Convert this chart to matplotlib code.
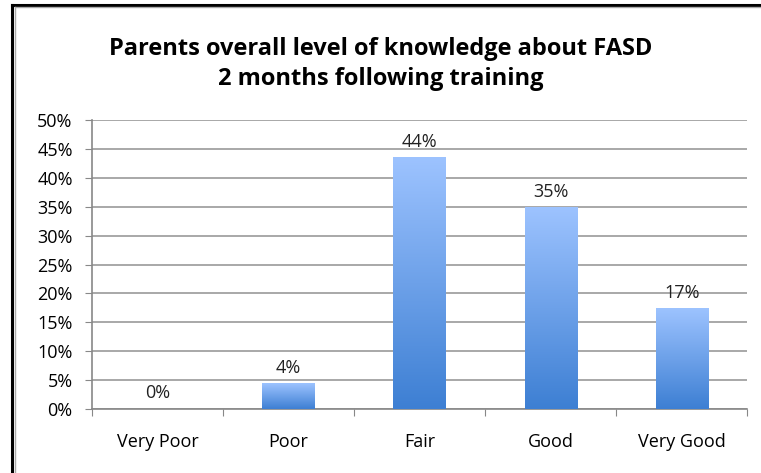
import numpy as np
import matplotlib
matplotlib.use("Agg")
import matplotlib.pyplot as plt
from matplotlib.colors import LinearSegmentedColormap
from matplotlib.lines import Line2D

categories = ["Very Poor", "Poor", "Fair", "Good", "Very Good"]
values = [0.0, 4.35, 43.48, 34.78, 17.39]
labels = ["0%", "4%", "44%", "35%", "17%"]
title = "Parents overall level of knowledge about FASD\n2 months following training"

plt.rcParams['font.family'] = ['Open Sans', 'DejaVu Sans']

fig = plt.figure(figsize=(7.61, 4.73), dpi=100)
ax = fig.add_axes([0.121, 0.1353, 0.861, 0.611])

x = np.arange(len(categories))
bars = ax.bar(x, values, width=0.4, color="none", zorder=3)

# vertical gradient in each bar, light at top, darker at bottom
cmap = LinearSegmentedColormap.from_list("bluegrad", ["#3d7fd3", "#9dc3ff"])
grad = np.linspace(0, 1, 256).reshape(-1, 1)
for b in bars:
    h = b.get_height()
    if h <= 0:
        continue
    x0 = b.get_x()
    w = b.get_width()
    ax.imshow(grad, cmap=cmap, origin="lower", aspect="auto",
              extent=(x0, x0 + w, 0, h), zorder=3, interpolation="bicubic")

for xi, v, lab in zip(x, values, labels):
    ax.annotate(lab, (xi, v), xytext=(0, 5), textcoords="offset points",
                ha="center", va="bottom", fontsize=13, color="#222222")

ax.set_xlim(-0.5, len(categories) - 0.5)
ax.set_ylim(0, 50)
ax.set_yticks(np.arange(0, 51, 5))
ax.set_yticklabels([f"{t}%" for t in range(0, 51, 5)], fontsize=13)
ax.set_xticks(np.arange(-0.5, len(categories), 1))
ax.set_xticklabels([])
ax.set_xticks(x, minor=True)
ax.set_xticklabels(categories, minor=True, fontsize=13)
ax.tick_params(axis="x", which="minor", length=0, pad=17)
ax.tick_params(axis="x", which="major", length=5, color="#888888", direction="out")
ax.tick_params(axis="y", length=5, color="#888888", pad=9)

ax.yaxis.grid(True, color="#999999", linewidth=1.2, zorder=0)
ax.set_axisbelow(True)
for side in ["top", "right"]:
    ax.spines[side].set_visible(False)
for side in ["left", "bottom"]:
    ax.spines[side].set_color("#888888")
    ax.spines[side].set_linewidth(1.2)

fig.text(0.5, 0.865, title, ha="center", va="center", fontsize=17,
         fontweight="bold", linespacing=1.35)

# frame around the slide (left and top edges only)
W, H = 761, 473
fig.add_artist(Line2D([12 / W, 12 / W], [0, 1 - 5 / H], color="black", lw=2.2,
                      transform=fig.transFigure))
fig.add_artist(Line2D([12 / W, 1], [1 - 5 / H, 1 - 5 / H], color="black", lw=2.2,
                      transform=fig.transFigure))
fig.add_artist(Line2D([14.5 / W, 14.5 / W], [0, 1 - 7.5 / H], color="#aaaaaa", lw=1,
                      transform=fig.transFigure))
fig.add_artist(Line2D([14.5 / W, 1], [1 - 7.5 / H, 1 - 7.5 / H], color="#aaaaaa", lw=1,
                      transform=fig.transFigure))

fig.savefig("out.png", dpi=100)
